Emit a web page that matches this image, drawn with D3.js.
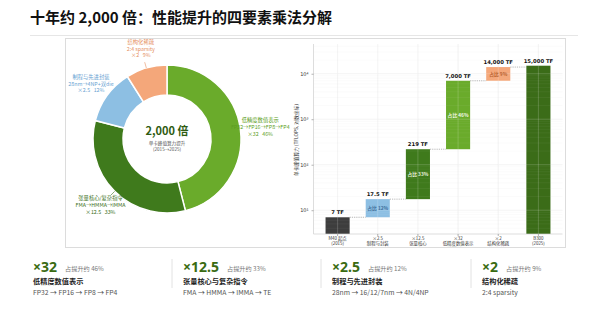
<!DOCTYPE html>
<html>
<head>
    <script src="https://d3js.org/d3.v7.min.js"></script>
    <style>
        body { margin: 0; background: #fff; }
        text { font-family: "Noto Sans CJK SC", "Noto Sans", sans-serif; white-space: pre; }
    </style>
</head>
<body>
    <svg width="600" height="320"></svg>
    <script>
        // donut: the four factors
        const factors = ['低精度数值表示', '张量核心/复杂指令', '制程与先进封装', '结构化稀疏'];
        const shares = [46, 33, 12, 9];
        const multipliers = ['×32', '×12.5', '×2.5', '×2'];
        const routes = ['FP32→FP16→FP8→FP4', 'FMA→HMMA→IMMA', '28nm→4NP+双die', '2:4 sparsity'];

        // waterfall steps
        const steps = ['M40 起点|(2015)', '×2.5|制程与封装', '×12.5|张量核心', '×32|低精度数值表示', '×2|结构化稀疏', 'B300|(2025)'];
        const stepLow = [null, 7, 17.5, 219, 7000, null];
        const stepHigh = [7, 17.5, 219, 7000, 14000, 15000];
        const stepTops = ['7 TF', '17.5 TF', '219 TF', '7,000 TF', '14,000 TF', '15,000 TF'];
        const stepShares = [null, '占比 12%', '占比 33%', '占比 46%', '占比 9%', null];
        const yTicks = [10, 100, 1000, 10000];
        const yTickLabels = ['10¹', '10²', '10³', '10⁴'];

        // bottom cards
        const cardTitles = ['低精度数值表示', '张量核心与复杂指令', '制程与先进封装', '结构化稀疏'];
        const cardRoutes = ['FP32 → FP16 → FP8 → FP4', 'FMA → HMMA → IMMA → TE', '28nm → 16/12/7nm → 4N/4NP', '2:4 sparsity'];

        const sliceColors = ['#6aab2b', '#3f7a1c', '#8dbfe3', '#f4a77a'];
        const labelColors = ['#5c9e22', '#3a6e18', '#6aa3d2', '#e58f5f'];
        const barColors = ['#3d3d3d', '#8dbfe3', '#3f7a1c', '#6aab2b', '#f4a77a', '#3b6c18'];
        const innerColors = [null, '#3f6f9c', '#e8f2dc', '#eef6e4', '#b8612f', null];

        const svg = d3.select('svg');

        // title + divider
        svg.append('text')
            .attr('x', 30).attr('y', 23)
            .attr('font-size', 15).attr('font-weight', 700).attr('fill', '#111')
            .text('十年约 2,000 倍：性能提升的四要素乘法分解');
        svg.append('line')
            .attr('x1', 30).attr('x2', 578).attr('y1', 35.5).attr('y2', 35.5)
            .attr('stroke', '#e6e6e6');

        // image frame
        svg.append('rect')
            .attr('x', 65.5).attr('y', 38.5).attr('width', 500).attr('height', 209)
            .attr('fill', '#fff').attr('stroke', '#dcdcdc');

        // ---- donut ----
        const cx = 167, cy = 139, rOut = 74, rIn = 44;
        const g = svg.append('g').attr('transform', `translate(${cx},${cy})`);
        const pie = d3.pie().sort(null).value(d => d);
        const arcs = pie(shares);
        const arc = d3.arc().innerRadius(rIn).outerRadius(rOut);

        g.selectAll('.slice')
            .data(arcs)
            .enter()
            .append('path')
            .attr('d', arc)
            .attr('fill', (d, i) => sliceColors[i])
            .attr('stroke', '#fff')
            .attr('stroke-width', 1.5);

        const mid = d => (d.startAngle + d.endAngle) / 2;

        // short leader lines for dark green and orange
        g.selectAll('.leader')
            .data(arcs.filter((d, i) => i === 1 || i === 3))
            .enter()
            .append('line')
            .attr('x1', d => Math.sin(mid(d)) * rOut)
            .attr('y1', d => -Math.cos(mid(d)) * rOut)
            .attr('x2', d => Math.sin(mid(d)) * (rOut + 6))
            .attr('y2', d => -Math.cos(mid(d)) * (rOut + 6))
            .attr('stroke', (d) => labelColors[d.index])
            .attr('stroke-width', 0.6);

        const lab = g.selectAll('.lab')
            .data(arcs)
            .enter()
            .append('text')
            .attr('text-anchor', 'middle')
            .attr('font-size', 5.3)
            .attr('fill', (d, i) => labelColors[i])
            .attr('transform', d => `translate(${Math.sin(mid(d)) * 94},${-Math.cos(mid(d)) * 94})`);
        lab.append('tspan').attr('x', 0).attr('y', -5).text((d, i) => factors[i]);
        lab.append('tspan').attr('x', 0).attr('y', 1.8).text((d, i) => routes[i]);
        lab.append('tspan').attr('x', 0).attr('y', 8.6).text((d, i) => `${multipliers[i]}\u00a0\u00a0\u00a0${shares[i]}%`);

        g.append('text')
            .attr('text-anchor', 'middle').attr('y', -4)
            .attr('font-size', 11).attr('font-weight', 700).attr('fill', '#2f5c12')
            .text('2,000 倍');
        g.append('text')
            .attr('text-anchor', 'middle').attr('y', 5.5)
            .attr('font-size', 4.6).attr('fill', '#555')
            .text('单卡峰值算力提升');
        g.append('text')
            .attr('text-anchor', 'middle').attr('y', 11.5)
            .attr('font-size', 4.6).attr('fill', '#555')
            .text('(2015→2025)');

        // ---- waterfall ----
        const x = d3.scaleBand()
            .domain(steps)
            .range([313.5, 562.5])
            .paddingInner(0.4)
            .paddingOuter(0.3);
        const y = d3.scaleLog()
            .domain([3, 45000])
            .range([234, 44]);
        const base = y.domain()[0];

        const w = svg.append('g');

        // grid under bars
        const minor = [];
        for (let e = 0; e <= 4; e++) {
            for (let m = 2; m <= 9; m++) {
                const v = m * Math.pow(10, e);
                if (v > base && v < y.domain()[1]) minor.push(v);
            }
        }
        function grid(layer, color, op, opMinor) {
            layer.selectAll(null).data(steps).enter().append('line')
                .attr('x1', d => x(d) + x.bandwidth() / 2).attr('x2', d => x(d) + x.bandwidth() / 2)
                .attr('y1', 44).attr('y2', 234)
                .attr('stroke', color).attr('stroke-opacity', op).attr('stroke-width', 0.6);
            layer.selectAll(null).data(yTicks).enter().append('line')
                .attr('x1', 313.5).attr('x2', 562.5)
                .attr('y1', d => y(d)).attr('y2', d => y(d))
                .attr('stroke', color).attr('stroke-opacity', op).attr('stroke-width', 0.6);
            layer.selectAll(null).data(minor).enter().append('line')
                .attr('x1', 313.5).attr('x2', 562.5)
                .attr('y1', d => y(d)).attr('y2', d => y(d))
                .attr('stroke', color).attr('stroke-opacity', opMinor).attr('stroke-width', 0.4);
        }
        grid(w.append('g'), '#e4e4e4', 0.8, 0.35);

        w.selectAll('.bar')
            .data(steps)
            .enter()
            .append('rect')
            .attr('x', d => x(d))
            .attr('width', x.bandwidth())
            .attr('y', (d, i) => y(stepHigh[i]))
            .attr('height', (d, i) => y(stepLow[i] ?? base) - y(stepHigh[i]))
            .attr('fill', (d, i) => barColors[i]);

        // grid showing through bars
        grid(w.append('g'), '#ffffff', 0.3, 0.12);

        // connectors
        w.selectAll('.conn')
            .data(steps.slice(0, -1))
            .enter()
            .append('line')
            .attr('x1', d => x(d) + x.bandwidth())
            .attr('x2', (d, i) => x(steps[i + 1]))
            .attr('y1', (d, i) => y(stepHigh[i]))
            .attr('y2', (d, i) => y(stepHigh[i]))
            .attr('stroke', '#888')
            .attr('stroke-width', 0.6)
            .attr('stroke-dasharray', '1.2,1');

        // value labels
        w.selectAll('.top')
            .data(steps)
            .enter()
            .append('text')
            .attr('x', d => x(d) + x.bandwidth() / 2)
            .attr('y', (d, i) => y(stepHigh[i]) - 3)
            .attr('text-anchor', 'middle')
            .style('font-family', '"DejaVu Sans"')
            .attr('font-size', 5.3)
            .attr('font-weight', 700)
            .attr('fill', '#111')
            .text((d, i) => stepTops[i]);

        w.selectAll('.share')
            .data(steps.filter((d, i) => stepShares[i]))
            .enter()
            .append('text')
            .attr('x', d => x(d) + x.bandwidth() / 2)
            .attr('y', d => {
                const i = steps.indexOf(d);
                return y(Math.sqrt(stepLow[i] * stepHigh[i])) + 1.8;
            })
            .attr('text-anchor', 'middle')
            .attr('font-size', 4.8)
            .attr('font-weight', 700)
            .attr('fill', d => innerColors[steps.indexOf(d)])
            .text(d => stepShares[steps.indexOf(d)]);

        // axes
        w.append('line')
            .attr('x1', 313.5).attr('x2', 313.5).attr('y1', 44).attr('y2', 234)
            .attr('stroke', '#cfcfcf').attr('stroke-width', 0.7);
        w.append('line')
            .attr('x1', 313.5).attr('x2', 562.5).attr('y1', 234).attr('y2', 234)
            .attr('stroke', '#cfcfcf').attr('stroke-width', 0.7);

        const yAxis = w.append('g')
            .attr('transform', 'translate(313.5,0)')
            .call(d3.axisLeft(y).tickValues(yTicks).tickSize(2).tickFormat((d, i) => yTickLabels[i]));
        yAxis.select('.domain').remove();
        yAxis.selectAll('line').attr('stroke', '#666').attr('stroke-width', 0.5);
        yAxis.selectAll('text').attr('font-size', 5).attr('fill', '#333').style('font-family', '"DejaVu Sans"');

        const xAxis = w.append('g')
            .attr('transform', 'translate(0,234)')
            .call(d3.axisBottom(x).tickSize(2).tickFormat(''));
        xAxis.select('.domain').remove();
        xAxis.selectAll('line').attr('stroke', '#666').attr('stroke-width', 0.5);

        const xl = w.selectAll('.xl')
            .data(steps)
            .enter()
            .append('text')
            .attr('text-anchor', 'middle')
            .attr('font-size', 4.4)
            .attr('fill', '#333');
        xl.append('tspan')
            .attr('x', d => x(d) + x.bandwidth() / 2).attr('y', 240)
            .text(d => d.split('|')[0]);
        xl.append('tspan')
            .attr('x', d => x(d) + x.bandwidth() / 2).attr('y', 245)
            .text(d => d.split('|')[1]);

        w.append('text')
            .attr('transform', 'translate(298,140) rotate(-90)')
            .attr('text-anchor', 'middle')
            .attr('font-size', 4.8)
            .attr('fill', '#333')
            .text('单卡峰值算力 (TFLOPS, 对数坐标)');

        // ---- bottom cards ----
        const cardX = [33, 183, 332, 482];
        const cards = svg.selectAll('.card')
            .data(cardTitles)
            .enter()
            .append('g')
            .attr('transform', (d, i) => `translate(${cardX[i]},0)`);

        cards.filter((d, i) => i > 0)
            .append('line')
            .attr('x1', -11).attr('x2', -11).attr('y1', 259).attr('y2', 288)
            .attr('stroke', '#e2e2e2');

        const big = cards.append('text')
            .attr('y', 272)
            .style('font-family', '"Noto Sans", sans-serif')
            .attr('font-size', 14)
            .attr('font-weight', 700)
            .attr('fill', '#3a6b12')
            .text((d, i) => multipliers[i]);
        const bigW = big.nodes().map(n => n.getComputedTextLength());

        cards.append('text')
            .attr('x', (d, i) => bigW[i] + 8)
            .attr('y', 271)
            .attr('font-size', 6.2)
            .attr('fill', '#777')
            .text((d, i) => `占提升约 ${shares[i]}%`);

        cards.append('text')
            .attr('y', 284)
            .attr('font-size', 7.2)
            .attr('font-weight', 700)
            .attr('fill', '#222')
            .text(d => d);

        cards.append('text')
            .attr('y', 294.5)
            .attr('font-size', 6.8)
            .attr('fill', '#555')
            .text((d, i) => cardRoutes[i]);
    </script>
</body>
</html>
